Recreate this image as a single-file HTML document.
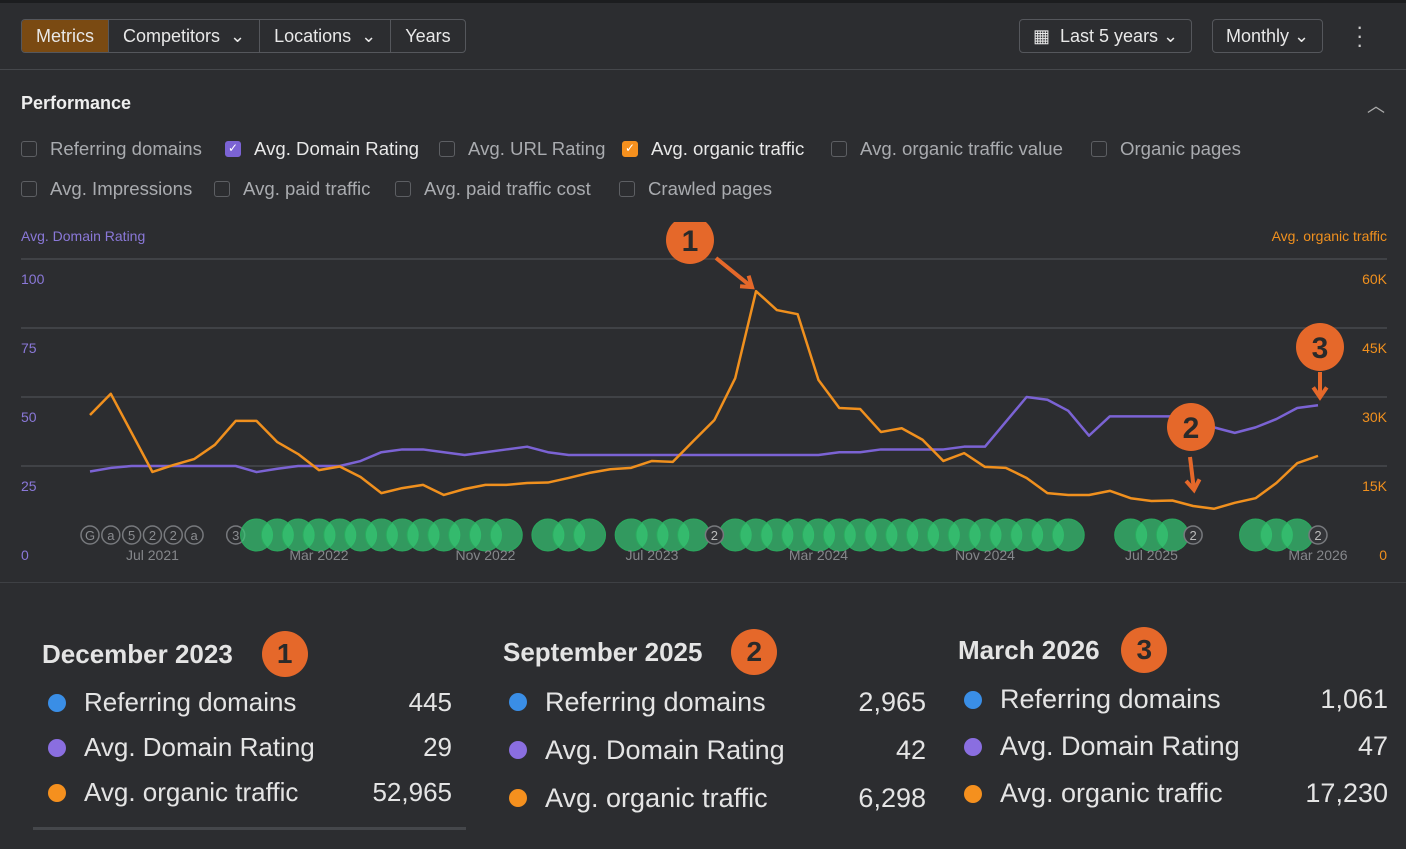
<!DOCTYPE html>
<html><head><meta charset="utf-8"><style>
body{margin:0;width:1406px;height:849px;background:#2c2d30;font-family:"Liberation Sans",sans-serif;color:#e6e6e6;overflow:hidden;position:relative}
.topstrip{position:absolute;left:0;top:0;width:1406px;height:3px;background:#1c1d1f}
.seg{position:absolute;top:19px;height:32px;display:flex;border:1px solid #55575c;border-radius:4px;overflow:hidden}
.seg div{padding:0 14px;line-height:32px;font-size:18px;border-right:1px solid #55575c;color:#e8e8e8}
.seg div:last-child{border-right:none}
.btn{position:absolute;top:19px;height:32px;line-height:32px;border:1px solid #55575c;border-radius:4px;font-size:18px;padding:0 13px;color:#e8e8e8}
.hr{position:absolute;left:0;width:1406px;height:1px;background:#45474b}
.cb{position:absolute;font-size:18.6px;color:#a9abaf;display:flex;align-items:center}
.cb i{display:inline-block;width:16px;height:16px;border:1.5px solid #5d5f63;border-radius:3px;margin-right:13px;box-sizing:border-box}
.cb.on{color:#e8e8e8}
.sum{position:absolute;font-size:26px;color:#e4e4e4}
.sum h3{margin:0 0 6px;font-size:26px;font-weight:bold;height:40px;display:flex;align-items:center}
.row{display:flex;align-items:center;height:45px}
.row .d{width:18px;height:18px;border-radius:50%;margin:0 18px 0 6px}
.row .v{margin-left:auto}
.badge{display:inline-flex;width:46px;height:46px;border-radius:50%;background:#e5682a;color:#2a2a2a;align-items:center;justify-content:center;font-size:28px;font-weight:bold}
</style></head><body>
<div class="topstrip"></div>
<div class="seg" style="left:21px">
<div style="background:#7a4a12">Metrics</div>
<div>Competitors &nbsp;⌄</div>
<div>Locations &nbsp;⌄</div>
<div>Years</div>
</div>
<div class="btn" style="left:1019px">▦&nbsp; Last 5 years ⌄</div>
<div class="btn" style="left:1212px">Monthly ⌄</div>
<div style="position:absolute;left:1356px;top:22px;font-size:22px;line-height:9px;color:#ccc">·<br>·<br>·</div>
<div class="hr" style="top:69px"></div>
<div style="position:absolute;left:21px;top:93px;font-size:18px;font-weight:bold;color:#eee">Performance</div>
<div style="position:absolute;left:1367px;top:92px;font-size:18px;color:#aaa">︿</div>

<div class="cb" style="left:21px;top:138px"><i></i>Referring domains</div>
<div class="cb on" style="left:225px;top:138px"><i style="background:#7b63d4;border-color:#7b63d4;color:#fff;font-size:12px;text-align:center;line-height:13px;font-style:normal">✓</i>Avg. Domain Rating</div>
<div class="cb" style="left:439px;top:138px"><i></i>Avg. URL Rating</div>
<div class="cb on" style="left:622px;top:138px"><i style="background:#f5901e;border-color:#f5901e;color:#fff;font-size:12px;text-align:center;line-height:13px;font-style:normal">✓</i>Avg. organic traffic</div>
<div class="cb" style="left:831px;top:138px"><i></i>Avg. organic traffic value</div>
<div class="cb" style="left:1091px;top:138px"><i></i>Organic pages</div>
<div class="cb" style="left:21px;top:178px"><i></i>Avg. Impressions</div>
<div class="cb" style="left:214px;top:178px"><i></i>Avg. paid traffic</div>
<div class="cb" style="left:395px;top:178px"><i></i>Avg. paid traffic cost</div>
<div class="cb" style="left:619px;top:178px"><i></i>Crawled pages</div>

<svg id="chart" width="1406" height="360" style="position:absolute;left:0;top:222px"></svg>

<div class="hr" style="top:582px;background:#3e4044"></div>

<div class="sum" style="left:42px;top:634px;width:410px">
<h3>December 2023&nbsp;&nbsp;&nbsp;&nbsp;<span class="badge">1</span></h3>
<div class="row"><span class="d" style="background:#3a8ee6"></span>Referring domains<span class="v">445</span></div>
<div class="row"><span class="d" style="background:#8a6ee0"></span>Avg. Domain Rating<span class="v">29</span></div>
<div class="row"><span class="d" style="background:#f5901e"></span>Avg. organic traffic<span class="v">52,965</span></div>
<div style="margin-top:12px;margin-left:-9px;height:3px;width:433px;background:#45474b"></div>
</div>
<div class="sum" style="left:503px;top:632px;width:423px;font-size:27px">
<h3>September 2025&nbsp;&nbsp;&nbsp;&nbsp;<span class="badge">2</span></h3>
<div class="row" style="height:48px"><span class="d" style="background:#3a8ee6"></span>Referring domains<span class="v">2,965</span></div>
<div class="row" style="height:48px"><span class="d" style="background:#8a6ee0"></span>Avg. Domain Rating<span class="v">42</span></div>
<div class="row" style="height:48px"><span class="d" style="background:#f5901e"></span>Avg. organic traffic<span class="v">6,298</span></div>
</div>
<div class="sum" style="left:958px;top:630px;width:430px;font-size:27px">
<h3>March 2026&nbsp;&nbsp;&nbsp;<span class="badge">3</span></h3>
<div class="row" style="height:47px"><span class="d" style="background:#3a8ee6"></span>Referring domains<span class="v">1,061</span></div>
<div class="row" style="height:47px"><span class="d" style="background:#8a6ee0"></span>Avg. Domain Rating<span class="v">47</span></div>
<div class="row" style="height:47px"><span class="d" style="background:#f5901e"></span>Avg. organic traffic<span class="v">17,230</span></div>
</div>

<script>
const months = 60; // Apr 2021 .. Mar 2026
const xLabels = ["Jul 2021","Mar 2022","Nov 2022","Jul 2023","Mar 2024","Nov 2024","Jul 2025","Mar 2026"];
const xLabelIdx = [3,11,19,27,35,43,51,59];
const drTicks = [0,25,50,75,100];
const trafficTicks = ["0","15K","30K","45K","60K"];
const domainRating = [23,24.3,25,25,25,25,25,25,22.8,24,25,25,25,26.8,30,31,31,30,29,30,31,32,30,29,29,29,29,29,29,29,29,29,29,29,29,29,30,30,31,31,31,31,32,32,41,50,49,45,36,43,43,43,43,42,39,37,39,42,46,47];
const organicTraffic = [26.1,30.7,22.2,13.7,15.2,16.5,19.6,24.8,24.8,20.2,17.6,14.1,14.9,12.6,9.1,10.2,10.9,8.7,10,10.9,10.9,11.3,11.4,12.4,13.5,14.3,14.6,16.1,15.9,20.5,25,34.1,53,48.9,48,33.7,27.6,27.4,22.4,23.2,20.7,16.1,17.8,14.8,14.6,12.4,9.1,8.7,8.7,9.6,8,7.4,7.5,6.3,5.7,7,8,11.3,15.6,17.2];
const eventKinds = ["G","a","5","2","2","a",null,"3"];
const greenRanges = [[8,20],[22,24],[26,29],[31,47],[50,52],[56,58]];
const darkMarkers = [[30,"2"],[53,"2"],[59,"2"]];

const svg = document.getElementById('chart');
const NS = 'http://www.w3.org/2000/svg';
const OY = 222;
const xS = i => 90 + i*(1228/59);
const yL = v => 535 - OY - v*2.76;
const yR = v => 535 - OY - v*4.6;
function mk(t, a){const e=document.createElementNS(NS,t);for(const k in a)e.setAttribute(k,a[k]);svg.appendChild(e);return e;}
function txt(x,y,s,fill,size,anchor){const e=mk('text',{x:x,y:y,fill:fill,'font-size':size,'text-anchor':anchor||'start','font-family':'Liberation Sans, sans-serif'});e.textContent=s;return e;}

let t=txt(21,19,'Avg. Domain Rating','#8a78d8',14);


t=txt(1387,19,'Avg. organic traffic','#f0901e',14,'end');



drTicks.forEach((v,k)=>{
  const y=yL(v);
  if(k>0){const g=mk('line',{x1:21,x2:1387,y1:y,y2:y,stroke:'#404246','stroke-width':2});
  
  }
  let a=txt(21,y+25,String(v),'#8a78d8',14);
  
  
  let b=txt(1387,y+25,trafficTicks[k],'#f0901e',14,'end');
  
  
});
// event row
eventKinds.forEach((s,i)=>{
  if(s===null)return;
  const c=mk('circle',{cx:xS(i),cy:yL(0),r:9,fill:'#2c2d30',stroke:'#77797d','stroke-width':1.5});
  
  
  txt(xS(i),yL(0)+5,s,'#8a8c90',13,'middle');
});
greenRanges.forEach(r=>{
  for(let i=r[0];i<=r[1];i++){
    const c=mk('circle',{cx:xS(i),cy:yL(0),r:16,fill:'#35c873','fill-opacity':0.7,stroke:'#2aa95e','stroke-width':1});
    
    
  }
});
darkMarkers.forEach(m=>{
  const c=mk('circle',{cx:xS(m[0]),cy:yL(0),r:9,fill:'#333438',stroke:'#77797d','stroke-width':1.5});
  
  
  txt(xS(m[0]),yL(0)+5,m[1],'#bbb',13,'middle');
});
xLabelIdx.forEach((i,k)=>{
  const l=txt(xS(i),yL(0)+25,xLabels[k],'#85878b',14,'middle');
  
  
});

const dr=mk('polyline',{points:domainRating.map((v,i)=>xS(i)+','+yL(v)).join(' '),fill:'none',stroke:'#7b63d4','stroke-width':2.5,'stroke-linejoin':'round'});


const ot=mk('polyline',{points:organicTraffic.map((v,i)=>xS(i)+','+yR(v)).join(' '),fill:'none',stroke:'#f0901e','stroke-width':2.5,'stroke-linejoin':'round'});



// annotations
function badge(cx,cy,n,name){
  const c=mk('circle',{cx:cx,cy:cy,r:24,fill:'#e5682a'});
  
  
  txt(cx,cy+11,n,'#2a2a2a',30,'middle').setAttribute('font-weight','bold');
}
function arrow(x1,y1,x2,y2){
  mk('line',{x1:x1,y1:y1,x2:x2,y2:y2,stroke:'#e5682a','stroke-width':4});
  const a=Math.atan2(y2-y1,x2-x1),L=12;
  mk('polyline',{points:(x2-L*Math.cos(a-0.6))+','+(y2-L*Math.sin(a-0.6))+' '+x2+','+y2+' '+(x2-L*Math.cos(a+0.6))+','+(y2-L*Math.sin(a+0.6)),fill:'none',stroke:'#e5682a','stroke-width':4});
}
const iPeak=32,iLow=53,iLast=59;
badge(690,240-OY,'1','annotation-1');
arrow(716,258-OY,xS(iPeak)-4,yR(organicTraffic[iPeak])-4);
badge(1191,427-OY,'2','annotation-2');
arrow(1190,457-OY,1194,490-OY);
badge(1320,347-OY,'3','annotation-3');
arrow(1320,372-OY,1320,yL(domainRating[iLast])-8);
</script>
</body></html>
